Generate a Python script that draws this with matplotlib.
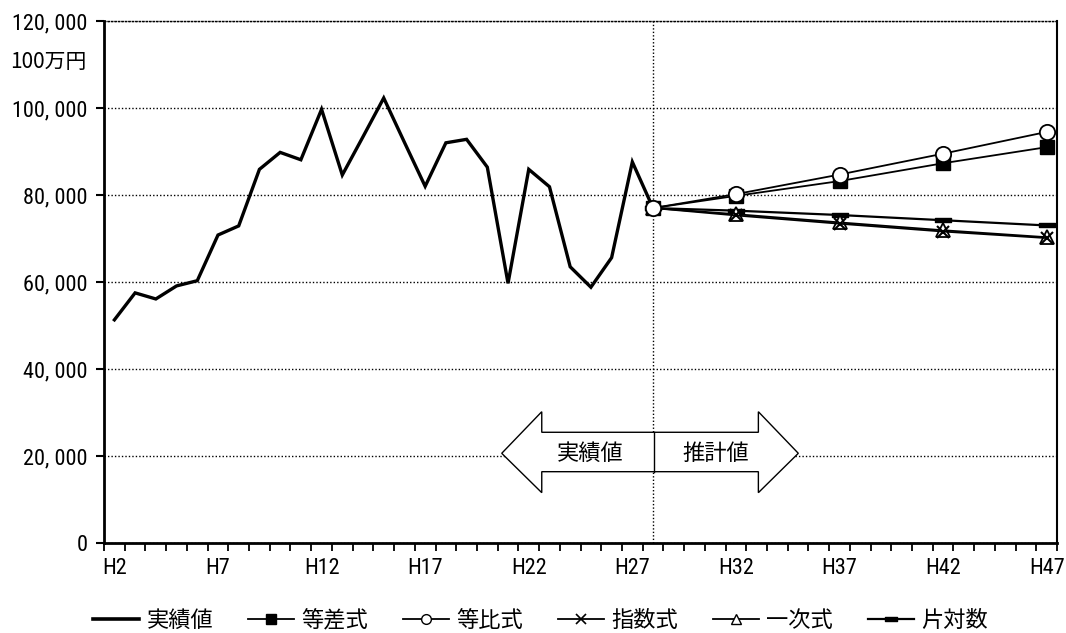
import matplotlib
matplotlib.use("Agg")
import matplotlib.pyplot as plt
from matplotlib import font_manager
from matplotlib.lines import Line2D
from matplotlib.patches import Polygon
from matplotlib.path import Path

plt.rcParams['font.family'] = ['Noto Sans CJK JP', 'DejaVu Sans']

# narrow face for the numeric tick labels, if one is installed
_installed = {f.name for f in font_manager.fontManager.ttflist}
_narrow = [f for f in ('Liberation Sans Narrow', 'Roboto Condensed', 'DejaVu Sans Condensed')
           if f in _installed]
NUM_FAMILY = [_narrow[0], 'Noto Sans CJK JP'] if _narrow else ['Noto Sans CJK JP']
NUM_SIZE = 16 if _narrow else 13.5

# Heisei years on the category axis (H2 .. H47)
era_years = list(range(2, 48))
tick_years = [2, 7, 12, 17, 22, 27, 32, 37, 42, 47]

# Actual values, H2 .. H28 (million yen)
actual_years = list(range(2, 29))
actual_values = [51300, 57500, 56100, 59100, 60300, 70800, 72900, 85900, 89800,
                 88100, 99700, 84600, 93400, 102300, 92100, 82000, 92000, 92800,
                 86400, 59700, 85900, 81900, 63500, 58800, 65600, 87600, 77000]

# Projections from the base year H28
proj_years = [28, 32, 37, 42, 47]
arith_values = [77000, 79800, 83200, 87300, 91000]    # 等差式
geom_values = [77000, 80200, 84700, 89500, 94500]     # 等比式
expo_values = [77000, 75300, 73400, 71600, 70100]     # 指数式
linear_values = [77000, 75600, 73700, 71900, 70300]   # 一次式
semilog_values = [77000, 76400, 75400, 74200, 73000]  # 片対数

y_ticks = [0, 20000, 40000, 60000, 80000, 100000, 120000]


def pos(year):
    return era_years.index(year)


fig = plt.figure(figsize=(10.66, 6.33), dpi=100)
ax = fig.add_axes([0.0976, 0.1422, 0.894, 0.8246])

ax.set_xlim(-0.5, len(era_years) - 0.5)
ax.set_ylim(0, 120000)

# horizontal dotted grid
ax.set_yticks(y_ticks)
ax.set_yticklabels([f"{v:,}".replace(",", ", ") for v in y_ticks],
                   fontsize=NUM_SIZE, family=NUM_FAMILY)
ax.yaxis.grid(True, linestyle=(0, (1, 1.5)), color='black', linewidth=1.0)
ax.set_axisbelow(True)
ax.tick_params(axis='y', direction='out', length=6, width=1.5, pad=6)

# category boundaries as ticks, labels every five years
ax.set_xticks([i - 0.5 for i in range(len(era_years) + 1)])
ax.set_xticklabels([])
ax.tick_params(axis='x', which='major', direction='out', length=6, width=1.3)
ax.set_xticks([pos(y) for y in tick_years], minor=True)
ax.set_xticklabels([f"H{y}" for y in tick_years], minor=True,
                   fontsize=NUM_SIZE, family=NUM_FAMILY)
ax.tick_params(axis='x', which='minor', length=0, pad=11)

for side in ('left', 'bottom'):
    ax.spines[side].set_linewidth(2)
ax.spines['right'].set_linewidth(1.5)
ax.spines['top'].set_linestyle((0, (1, 1.5)))
ax.spines['top'].set_linewidth(1.0)

# base-year divider
ax.axvline(pos(28), color='black', linestyle=(0, (1, 1.5)), linewidth=1.0, zorder=1)

# actual values
ax.plot([pos(y) for y in actual_years], actual_values, color='black',
        linewidth=2.4, zorder=3, solid_joinstyle='miter')

px = [pos(y) for y in proj_years]
dash_marker = Path([(-1, -0.32), (1, -0.32), (1, 0.32), (-1, 0.32), (-1, -0.32)],
                   [Path.MOVETO, Path.LINETO, Path.LINETO, Path.LINETO, Path.CLOSEPOLY])

ax.plot(px, semilog_values, color='black', linewidth=1.6, marker=dash_marker,
        markersize=11, markerfacecolor='black', markeredgecolor='black', zorder=4)
ax.plot(px, linear_values, color='black', linewidth=1.3, marker='^',
        markersize=10, markerfacecolor='white', markeredgecolor='black',
        markeredgewidth=1.3, zorder=4)
ax.plot(px, expo_values, color='black', linewidth=1.3, marker='x',
        markersize=9, markeredgewidth=1.5, zorder=4)
ax.plot(px, arith_values, color='black', linewidth=1.3, marker='s',
        markersize=9.5, markerfacecolor='black', markeredgecolor='black', zorder=4)
ax.plot(px, geom_values, color='black', linewidth=1.3, marker='o',
        markersize=11, markerfacecolor='white', markeredgecolor='black',
        markeredgewidth=1.3, zorder=5)

# double arrow separating actual and estimated periods
arrow_pts = [(0.4173, 0.1718), (0.4593, 0.2515), (0.4593, 0.2121), (0.6866, 0.2121),
             (0.6866, 0.2515), (0.7285, 0.1718), (0.6866, 0.0964), (0.6866, 0.1366),
             (0.4593, 0.1366), (0.4593, 0.0964)]
ax.add_patch(Polygon(arrow_pts, closed=True, transform=ax.transAxes,
                     facecolor='white', edgecolor='black', linewidth=1.0, zorder=6))
ax.plot([0.5774, 0.5774], [0.1366, 0.2121], transform=ax.transAxes,
        color='black', linewidth=1.0, zorder=7)
ax.text(0.510, 0.1718, "実績値", transform=ax.transAxes, ha='center', va='center',
        fontsize=16, zorder=8)
ax.text(0.642, 0.1718, "推計値", transform=ax.transAxes, ha='center', va='center',
        fontsize=16, zorder=8)

# unit label
fig.text(0.0095, 0.9020, "100万円", ha='left', va='center', fontsize=15)

# legend
handles = [
    Line2D([], [], color='black', linewidth=2.6),
    Line2D([], [], color='black', linewidth=1.3, marker='s', markersize=7,
           markerfacecolor='black'),
    Line2D([], [], color='black', linewidth=1.3, marker='o', markersize=7,
           markerfacecolor='white', markeredgecolor='black'),
    Line2D([], [], color='black', linewidth=1.3, marker='x', markersize=7,
           markeredgewidth=1.2),
    Line2D([], [], color='black', linewidth=1.3, marker='^', markersize=7,
           markerfacecolor='white', markeredgecolor='black'),
    Line2D([], [], color='black', linewidth=1.6, marker=dash_marker, markersize=8,
           markerfacecolor='black'),
]
labels = ["実績値", "等差式", "等比式", "指数式", "一次式", "片対数"]
fig.legend(handles, labels, loc='center', bbox_to_anchor=(0.507, 0.0195), ncol=6,
           frameon=False, fontsize=16, handlelength=2.1, handletextpad=0.32,
           columnspacing=1.55, borderpad=0.2)

fig.savefig("out.png", dpi=100)
